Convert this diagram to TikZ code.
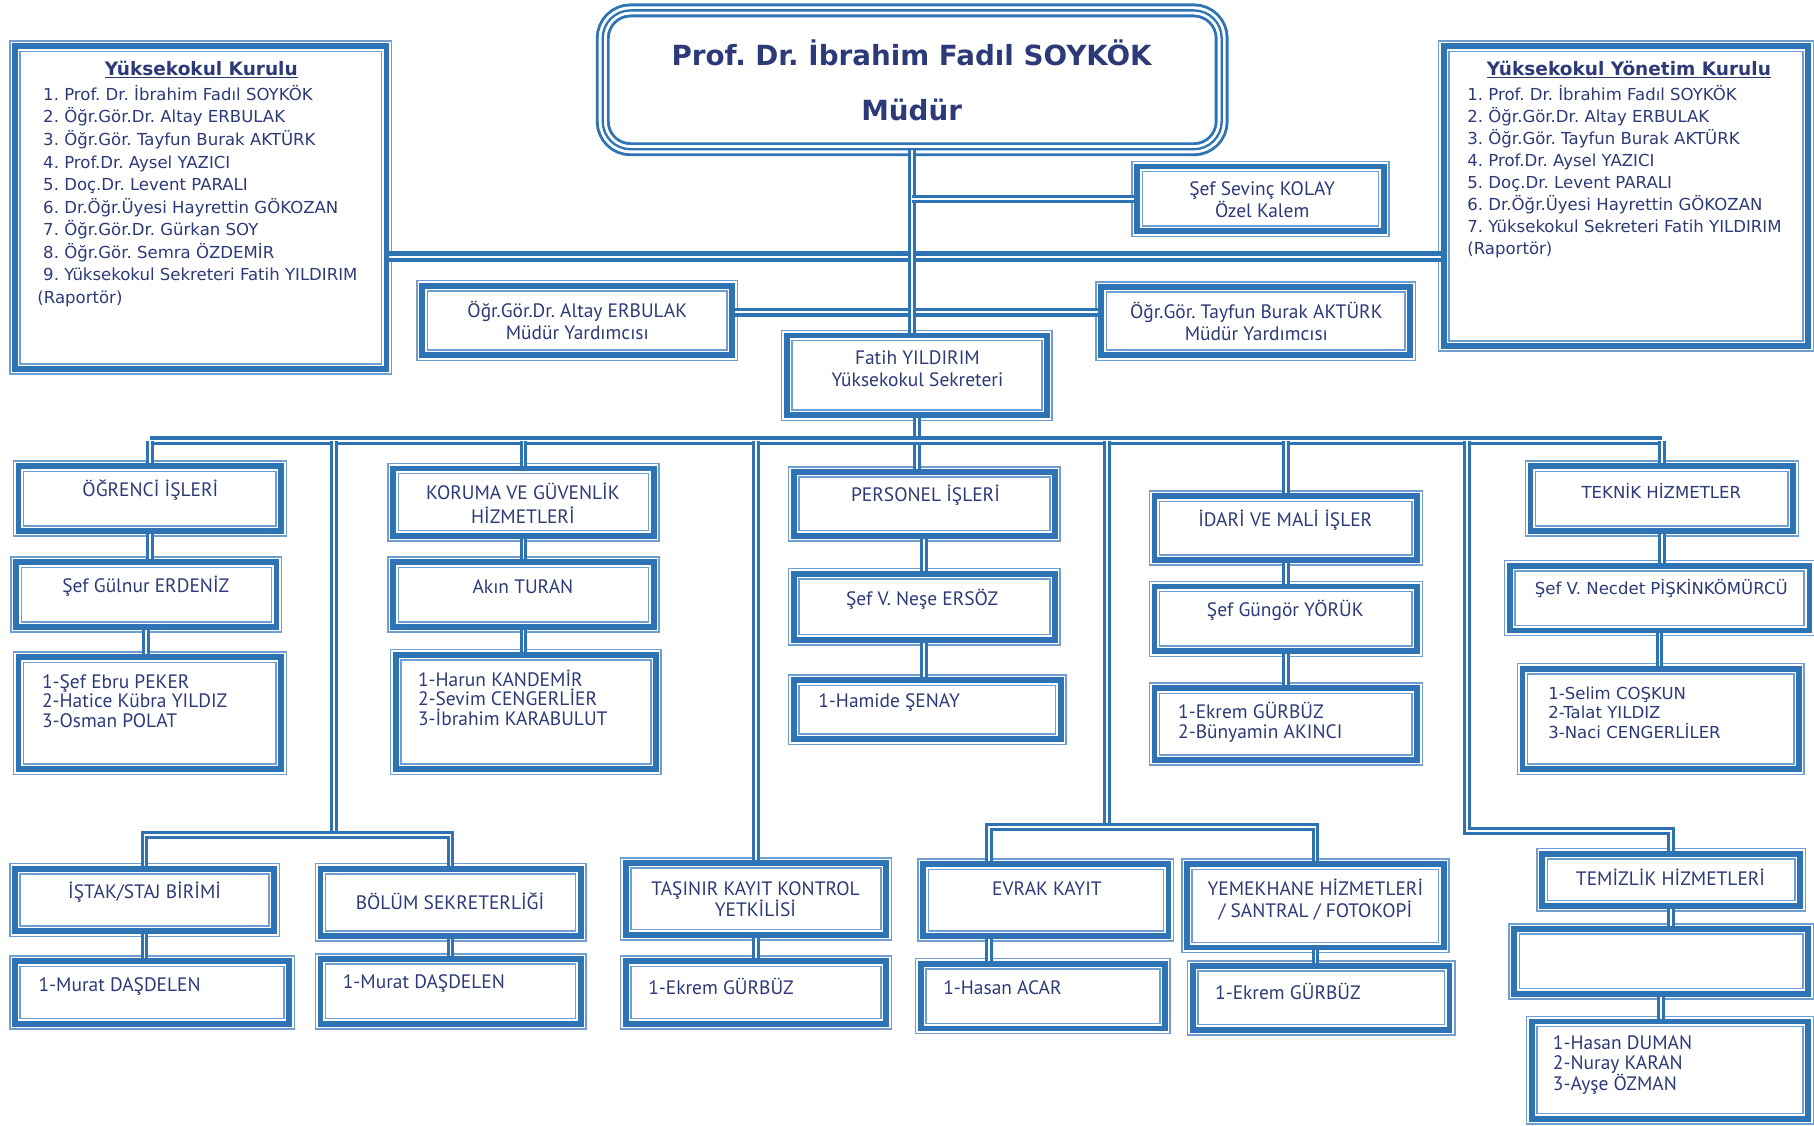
\documentclass[tikz,border=0pt]{standalone}
\usepackage{fontspec}
\setmainfont{PT Sans}
\newfontfamily\verd{DejaVu Sans}
\definecolor{lineblue}{RGB}{46,116,181}
\definecolor{paleblue}{RGB}{110,158,210}
\definecolor{txtblue}{RGB}{44,58,120}
\frenchspacing

\tikzset{every picture/.style={line width=0.75pt}}
\tikzset{
  box/.style={draw=lineblue, line width=5, inner sep=0,
    preaction={draw=paleblue, line width=10.2}, preaction={draw=white, line width=7.6}},
  mbox/.style={draw=lineblue, line width=2, inner sep=0, rounded corners=24,
    preaction={draw=lineblue, line width=12}, preaction={draw=white, line width=7}},
  lbl/.style={text=txtblue, font=\fontsize{16.8}{19}\selectfont, align=center, inner sep=0},
  lst/.style={lbl, align=left, anchor=west, font=\fontsize{16.8}{17}\selectfont},
  vlbl/.style={lbl, font=\verd\fontsize{14.3}{17}\selectfont},
  vlst/.style={vlbl, align=left, anchor=west},
  link/.style={draw=lineblue, line width=2.6, double=white, double distance=1.5},
  bus/.style={draw=lineblue, line width=3.2, double=white, double distance=1.6},
  topbus/.style={draw=lineblue, line width=3.8, double=white, double distance=1.8},
}

\begin{document}
\begin{tikzpicture}[x=1pt,y=1pt,yscale=-1,xscale=1]
\useasboundingbox (0,0) rectangle (1568,973);

% Boxes
\node[mbox, minimum width=535, minimum height=120] (mudur) at (788.5,69) {};
\node[box, minimum width=321, minimum height=279] (kurulu) at (173.5,179.5) {};
\node[box, minimum width=315, minimum height=259] (yonetim) at (1405.5,169.5) {};
\node[box, minimum width=213, minimum height=56] (sevinc) at (1089.5,172) {};
\node[box, minimum width=268, minimum height=60] (altay) at (499,277) {};
\node[box, minimum width=267, minimum height=59] (tayfun) at (1085.5,277.5) {};
\node[box, minimum width=225, minimum height=69] (fatih) at (792.5,324.5) {};
% first row
\node[box, minimum width=227, minimum height=56] (ogr) at (129.5,431) {};
\node[box, minimum width=225, minimum height=58] (koruma) at (452.5,434) {};
\node[box, minimum width=226, minimum height=55] (personel) at (799,435.5) {};
\node[box, minimum width=227, minimum height=55] (idari) at (1111.5,456.5) {};
\node[box, minimum width=227, minimum height=56] (teknik) at (1436.5,431) {};
% second row
\node[box, minimum width=225, minimum height=56] (gulnur) at (126.5,514) {};
\node[box, minimum width=225, minimum height=56] (akin) at (452.5,514) {};
\node[box, minimum width=226, minimum height=57] (nese) at (799,524.5) {};
\node[box, minimum width=227, minimum height=56] (gungor) at (1111.5,535) {};
\node[box, minimum width=259, minimum height=56] (necdet) at (1434.5,517) {};
% third row
\node[box, minimum width=227, minimum height=97] (ogrL) at (129.5,616.5) {};
\node[box, minimum width=225, minimum height=99] (korL) at (454.5,615.5) {};
\node[box, minimum width=231, minimum height=51] (hamide) at (801.5,613.5) {};
\node[box, minimum width=227, minimum height=62] (idariL) at (1111.5,626) {};
\node[box, minimum width=239, minimum height=87] (teknikL) at (1435.5,621.5) {};
% bottom rows
\node[box, minimum width=224, minimum height=54] (istak) at (125,778) {};
\node[box, minimum width=225, minimum height=58] (bolum) at (389.5,780) {};
\node[box, minimum width=225, minimum height=62] (tasinir) at (653.5,777) {};
\node[box, minimum width=212, minimum height=62] (evrak) at (904,778) {};
\node[box, minimum width=222, minimum height=72] (yemek) at (1137,783) {};
\node[box, minimum width=223, minimum height=45] (temiz) at (1444.5,760.5) {};
\node[box, minimum width=237, minimum height=54] (istakL) at (131.5,858) {};
\node[box, minimum width=225, minimum height=56] (bolumL) at (389.5,857) {};
\node[box, minimum width=225, minimum height=54] (tasinirL) at (653.5,858) {};
\node[box, minimum width=211, minimum height=56] (evrakL) at (901.5,861) {};
\node[box, minimum width=222, minimum height=55] (yemekL) at (1142,862.5) {};
\node[box, minimum width=254, minimum height=56] (temizE) at (1436,831) {};
\node[box, minimum width=239, minimum height=84] (temizL) at (1443.5,925) {};

% Text Node
\node[lbl, font=\verd\bfseries\fontsize{24}{28}\selectfont] (mudurT) at (788,46) {Prof. Dr. İbrahim Fadıl SOYKÖK};
\node[lbl, font=\verd\bfseries\fontsize{24}{28}\selectfont] (mudurU) at (788,95) {Müdür};
% Text Node
\node[vlbl, font=\verd\bfseries\fontsize{16}{19}\selectfont] (kuruluT) at (174,60) {\underline{Yüksekokul Kurulu}};
\node[vlst, font=\verd\fontsize{14.3}{19.5}\selectfont] (kuruluL) at (32,169.5) {\hspace*{5pt}1. Prof. Dr. İbrahim Fadıl SOYKÖK\\\hspace*{5pt}2. Öğr.Gör.Dr. Altay ERBULAK\\\hspace*{5pt}3. Öğr.Gör. Tayfun Burak AKTÜRK\\\hspace*{5pt}4. Prof.Dr. Aysel YAZICI\\\hspace*{5pt}5. Doç.Dr. Levent PARALI\\\hspace*{5pt}6. Dr.Öğr.Üyesi Hayrettin GÖKOZAN\\\hspace*{5pt}7. Öğr.Gör.Dr. Gürkan SOY\\\hspace*{5pt}8. Öğr.Gör. Semra ÖZDEMİR\\\hspace*{5pt}9. Yüksekokul Sekreteri Fatih YILDIRIM\\(Raportör)};
% Text Node
\node[vlbl, font=\verd\bfseries\fontsize{16}{19}\selectfont] (yonetimT) at (1408,60) {\underline{Yüksekokul Yönetim Kurulu}};
\node[vlst, font=\verd\fontsize{14.3}{19}\selectfont] (yonetimL) at (1268,148.5) {1. Prof. Dr. İbrahim Fadıl SOYKÖK\\2. Öğr.Gör.Dr. Altay ERBULAK\\3. Öğr.Gör. Tayfun Burak AKTÜRK\\4. Prof.Dr. Aysel YAZICI\\5. Doç.Dr. Levent PARALI\\6. Dr.Öğr.Üyesi Hayrettin GÖKOZAN\\7. Yüksekokul Sekreteri Fatih YILDIRIM\\(Raportör)};
% Text Node
\node[lbl, font=\fontsize{16.8}{17}\selectfont] (sevincT) at (1091,172.5) {Şef Sevinç KOLAY\\Özel Kalem};
\node[lbl] (altayT) at (499,277) {Öğr.Gör.Dr. Altay ERBULAK\\Müdür Yardımcısı};
\node[lbl] (tayfunT) at (1086,277.5) {Öğr.Gör. Tayfun Burak AKTÜRK\\Müdür Yardımcısı};
\node[lbl] (fatihT) at (793,319) {Fatih YILDIRIM\\Yüksekokul Sekreteri};
% Text Node
\node[lbl] (ogrT) at (130,424) {ÖĞRENCİ İŞLERİ};
\node[lbl] (gulnurT) at (126,507) {Şef Gülnur ERDENİZ};
\node[lst] (ogrLT) at (36,606) {1-Şef Ebru PEKER\\2-Hatice Kübra YILDIZ\\3-Osman POLAT};
% Text Node
\node[lbl, font=\fontsize{16.8}{20}\selectfont] (korumaT) at (452,435) {KORUMA VE GÜVENLİK\\HİZMETLERİ};
\node[lbl] (akinT) at (452,507) {Akın TURAN};
\node[lst] (korLT) at (361,603) {1-Harun KANDEMİR\\2-Sevim CENGERLİER\\3-İbrahim KARABULUT};
% Text Node
\node[lbl] (personelT) at (800,428) {PERSONEL İŞLERİ};
\node[lbl] (neseT) at (797,518) {Şef V. Neşe ERSÖZ};
\node[lst] (hamideT) at (707,607) {1-Hamide ŞENAY};
% Text Node
\node[lbl] (idariT) at (1111,450) {İDARİ VE MALİ İŞLER};
\node[lbl] (gungorT) at (1111,528) {Şef Güngör YÖRÜK};
\node[lst] (idariLT) at (1018,624.5) {1-Ekrem GÜRBÜZ\\2-Bünyamin AKINCI};
% Text Node
\node[vlbl] (teknikT) at (1436,424) {TEKNİK HİZMETLER};
\node[vlbl] (necdetT) at (1436,509) {Şef V. Necdet PİŞKİNKÖMÜRCÜ};
\node[vlst] (teknikLT) at (1338,616) {1-Selim COŞKUN\\2-Talat YILDIZ\\3-Naci CENGERLİLER};
% Text Node
\node[lbl] (istakT) at (125,771) {İŞTAK/STAJ BİRİMİ};
\node[lst] (istakLT) at (33,853) {1-Murat DAŞDELEN};
\node[lbl] (bolumT) at (389,779) {BÖLÜM SEKRETERLİĞİ};
\node[lst] (bolumLT) at (296,850) {1-Murat DAŞDELEN};
\node[lbl, font=\fontsize{16.8}{18}\selectfont] (tasinirT) at (653,777) {TAŞINIR KAYIT KONTROL\\YETKİLİSİ};
\node[lst] (tasinirLT) at (560,853) {1-Ekrem GÜRBÜZ};
\node[lbl] (evrakT) at (905,768) {EVRAK KAYIT};
\node[lst] (evrakLT) at (815,854) {1-Hasan ACAR};
\node[lbl] (yemekT) at (1137,777.5) {YEMEKHANE HİZMETLERİ\\/ SANTRAL / FOTOKOPİ};
\node[lst] (yemekLT) at (1050,857) {1-Ekrem GÜRBÜZ};
\node[lbl] (temizT) at (1444,758) {TEMİZLİK HİZMETLERİ};
\node[lst] (temizLT) at (1342,921) {1-Hasan DUMAN\\2-Nuray KARAN\\3-Ayşe ÖZMAN};

% Bus levels
\coordinate (busA) at (790,222);
\coordinate (vekil) at (790,270);
\coordinate (busB) at (793,381);
\coordinate (subL) at (289,722);
\coordinate (subM) at (957,715);
\coordinate (subR) at (1268,718);

% Connection
\draw[topbus] (kurulu.east |- busA) -- (yonetim.west |- busA);
\draw[bus] (altay.east |- vekil) -- (tayfun.west |- vekil);
\draw[link] (mudur.south) -- (mudur.south |- fatih.north);
\draw[link] (sevinc.west) -- (sevinc.west -| mudur.south);
\draw[link] (fatih.south) -- (fatih.south |- personel.north);
\draw[bus] (ogr.north |- busB) -- (teknik.north |- busB);
% Connection
\draw[link] (ogr.north) -- (ogr.north |- busB);
\draw[link] (koruma.north) -- (koruma.north |- busB);
\draw[link] (idari.north) -- (idari.north |- busB);
\draw[link] (teknik.north) -- (teknik.north |- busB);
\draw[link] (tasinir.north) -- (tasinir.north |- busB);
% Connection
\draw[link] (subL |- busB) -- (subL);
\draw[link] (istak.north) |- (subL) -| (bolum.north);
\draw[link] (subM |- busB) -- (subM);
\draw[link] ([xshift=-49]evrak.north) |- (subM) -| (yemek.north);
\draw[link] (subR |- busB) -- (subR) -| (temiz.north);
% Connection
\draw[link] (ogr.south) -- (ogr.south |- gulnur.north);
\draw[link] (gulnur.south) -- (gulnur.south |- ogrL.north);
\draw[link] (koruma.south) -- (koruma.south |- akin.north);
\draw[link] (akin.south) -- (akin.south |- korL.north);
\draw[link] (personel.south) -- (personel.south |- nese.north);
\draw[link] (nese.south) -- (nese.south |- hamide.north);
\draw[link] (idari.south) -- (idari.south |- gungor.north);
\draw[link] (gungor.south) -- (gungor.south |- idariL.north);
\draw[link] (teknik.south) -- (teknik.south |- necdet.north);
\draw[link] (necdet.south) -- (necdet.south |- teknikL.north);
% Connection
\draw[link] (istak.south) -- (istak.south |- istakL.north);
\draw[link] (bolum.south) -- (bolum.south |- bolumL.north);
\draw[link] (tasinir.south) -- (tasinir.south |- tasinirL.north);
\draw[link] ([xshift=-49]evrak.south) -- ([xshift=-49]evrak.south |- evrakL.north);
\draw[link] (yemek.south) -- (yemek.south |- yemekL.north);
\draw[link] (temiz.south) -- (temiz.south |- temizE.north);
\draw[link] (temizE.south) -- (temizE.south |- temizL.north);

\end{tikzpicture}
\end{document}
